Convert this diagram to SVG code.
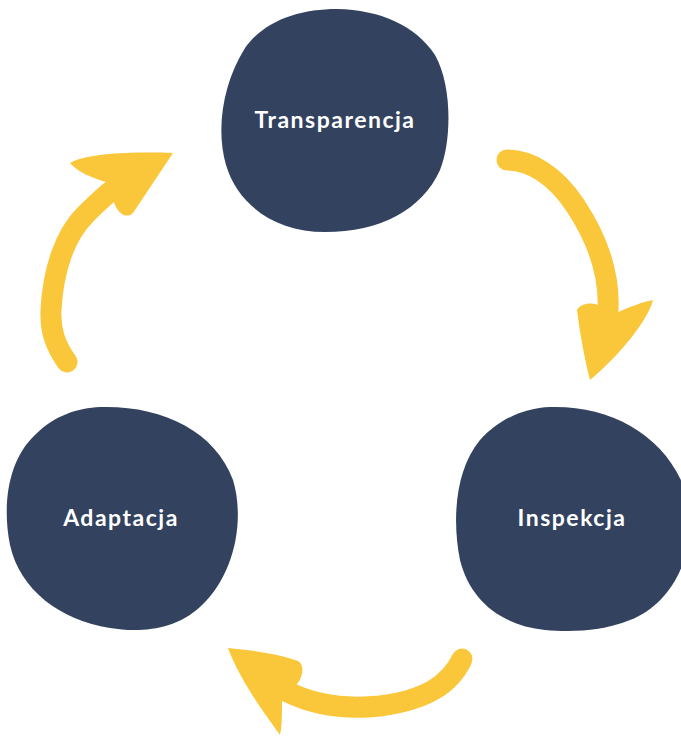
<svg xmlns="http://www.w3.org/2000/svg" width="681" height="736" viewBox="0 0 681 736">
<style>
.blob{fill:#33425E}
.lbl{fill:#FFFFFF;font-family:Lato,"Liberation Sans",sans-serif;font-weight:700;font-size:23px;letter-spacing:1.5px;text-anchor:middle}
.shaft{fill:none;stroke:#FAC73B;stroke-width:21;stroke-linecap:round;stroke-linejoin:round}
.head{fill:#FAC73B}
</style>
<rect width="681" height="736" fill="#FFFFFF"/>
<g id="connectors">
  <g id="arrow-adaptacja-transparencja">
    <path class="shaft" d="M67,362 C55,345 50,330 51,310 C53,270 65,235 85,215 C95,205 105,195 115,188"/>
    <path class="head" d="M70,163 C90,152 140,152 173,153 L133,213 C128,218 120,216 115,205 L106,182 C92,178 78,172 70,163 Z"/>
  </g>
  <g id="arrow-transparencja-inspekcja">
    <path class="shaft" d="M507,160 C530,160 555,175 575,205 C595,235 610,270 608,310"/>
    <path class="head" d="M577,310 C580,304 590,302 598,305 L618,312 C630,307 642,302 653,300 C648,320 620,355 590,380 C585,360 580,335 577,310 Z"/>
  </g>
  <g id="arrow-inspekcja-adaptacja">
    <path class="shaft" d="M462,659 C450,685 425,700 380,706 C340,710 310,703 288,692"/>
    <path class="head" d="M228,648 C250,650 280,654 298,661 C305,665 303,677 297,684 L282,702 C282,715 282,727 280,735 C262,710 240,680 228,648 Z"/>
  </g>
</g>
<g id="node-transparencja">
  <path class="blob" d="M337,9 C380,10 415,25 435,55 C452,85 452,140 440,170 C422,210 380,232 325,232 C275,232 238,205 226,165 C216,130 222,85 245,48 C265,20 300,9 337,9 Z"/>
  <text class="lbl" x="335" y="128">Transparencja</text>
</g>
<g id="node-inspekcja">
  <path class="blob" d="M550,407 C610,405 665,435 685,490 C700,540 680,600 630,620 C600,632 570,632 545,630 C500,625 470,600 460,560 C452,520 455,470 480,440 C500,418 525,408 550,407 Z"/>
  <text class="lbl" x="572" y="526">Inspekcja</text>
</g>
<g id="node-adaptacja">
  <path class="blob" d="M100,407 C160,405 215,430 233,480 C245,520 235,575 200,607 C175,630 140,633 110,628 C60,620 20,590 10,545 C2,505 8,460 35,435 C55,415 78,408 100,407 Z"/>
  <text class="lbl" x="121" y="526">Adaptacja</text>
</g>
</svg>
